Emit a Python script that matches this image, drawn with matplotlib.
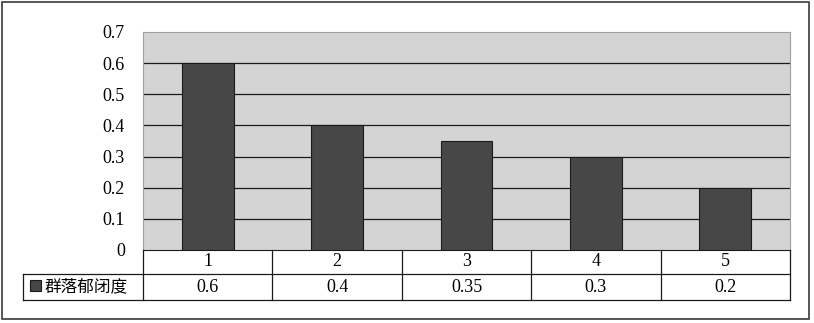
import matplotlib
matplotlib.use("Agg")
import matplotlib.pyplot as plt
from matplotlib.patches import Rectangle
from matplotlib.lines import Line2D

categories = ["1", "2", "3", "4", "5"]
values = [0.6, 0.4, 0.35, 0.3, 0.2]
value_labels = ["0.6", "0.4", "0.35", "0.3", "0.2"]
series_name = "群落郁闭度"
yticks = [0, 0.1, 0.2, 0.3, 0.4, 0.5, 0.6, 0.7]

W, H = 814, 323
fig = plt.figure(figsize=(W / 100, H / 100), dpi=100)

# plot area in pixels
left, right, top, bottom = 143, 790, 32, 250
ax = fig.add_axes([left / W, 1 - bottom / H, (right - left) / W, (bottom - top) / H])
ax.set_facecolor("#d4d4d4")

x = list(range(len(categories)))
ax.bar(x, values, width=0.4, color="#474747", edgecolor="#1a1a1a", linewidth=0.8, zorder=3)

ax.set_xlim(-0.5, len(categories) - 0.5)
ax.set_ylim(0, 0.7)
ax.set_yticks(yticks)
ax.set_yticklabels([f"{t:g}" for t in yticks], family="Liberation Serif", fontsize=13)
ax.tick_params(axis="y", length=0, pad=13)
ax.set_xticks([])
for t in yticks[1:-1]:
    ax.axhline(t, color="#1a1a1a", linewidth=0.9, zorder=1)
for s in ["top", "right", "left"]:
    ax.spines[s].set_color("#a0a0a0")
ax.spines["bottom"].set_color("#1a1a1a")

# data table below the plot, in pixel coords of the figure
def fx(px):
    return px / W

def fy(py):
    return 1 - py / H

row1, row2, row3 = 250, 274, 300
tab_left = 23
col_w = (right - left) / len(categories)
lc = "#1a1a1a"
lines = [
    ((tab_left, right), (row2, row2)),
    ((tab_left, right), (row3, row3)),
    ((tab_left, tab_left), (row2, row3)),
    ((right, right), (row1, row3)),
]
for i in range(len(categories)):
    xp = left + i * col_w
    lines.append(((xp, xp), (row1, row3)))
for (xs, ys) in lines:
    fig.add_artist(Line2D([fx(xs[0]), fx(xs[1])], [fy(ys[0]), fy(ys[1])], color=lc, linewidth=0.9))

for i, c in enumerate(categories):
    cx = left + (i + 0.5) * col_w
    fig.text(fx(cx), fy((row1 + row2) / 2), c, ha="center", va="center",
             family="Liberation Serif", fontsize=13)
    fig.text(fx(cx), fy((row2 + row3) / 2), value_labels[i], ha="center", va="center",
             family="Liberation Serif", fontsize=13)

# legend key
fig.add_artist(Rectangle((fx(30), fy(291)), fx(11), 11 / H, facecolor="#474747",
                         edgecolor=lc, linewidth=0.8))
fig.text(fx(45), fy((row2 + row3) / 2), series_name, ha="left", va="center",
         family=["Noto Sans CJK SC", "DejaVu Sans"], fontsize=12)

# outer frame
fig.add_artist(Rectangle((fx(2), fy(319)), fx(807), 317 / H, fill=False,
                         edgecolor="#3a3a3a", linewidth=1.2))

fig.savefig("out.png", dpi=100)
